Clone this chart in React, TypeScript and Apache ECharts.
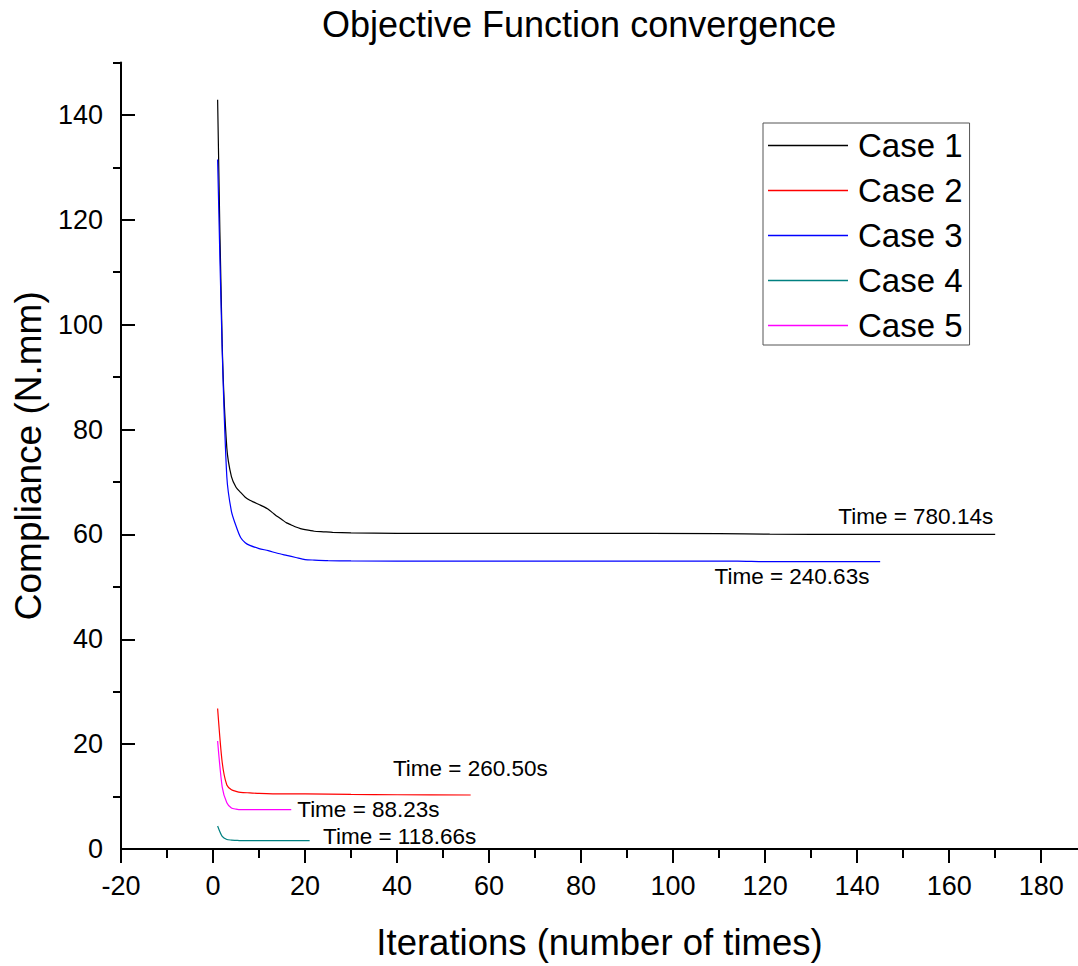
import React, { useEffect, useRef } from "react";
import * as echarts from "echarts";

const FONT = "'Liberation Sans', Arial, sans-serif";

const titleText = "Objective Function convergence";
const xName = "Iterations (number of times)";
const yName = "Compliance (N.mm)";

const xTickValues = [-20, 0, 20, 40, 60, 80, 100, 120, 140, 160, 180];
const xMinorTickValues = [-10, 10, 30, 50, 70, 90, 110, 130, 150, 170];
const yTickValues = [0, 20, 40, 60, 80, 100, 120, 140];
const yMinorTickValues = [10, 30, 50, 70, 90, 110, 130, 150];

const seriesNames = ["Case 1", "Case 2", "Case 3", "Case 4", "Case 5"];
const seriesColors = ["#000000", "#ff0000", "#0000ff", "#008080", "#ff00ff"];

const case1X = [1, 2, 3, 4, 5, 6, 7, 8, 9, 10, 11, 12, 13, 14, 15, 16, 17, 18, 19, 20, 22, 24, 26, 30, 40, 60, 80, 110, 121, 140, 170];
const case1Y = [142.9, 96, 76.5, 71, 69, 68, 67.1, 66.5, 66.1, 65.7, 65.3, 64.8, 64.1, 63.4, 62.8, 62.2, 61.8, 61.4, 61.1, 60.9, 60.6, 60.5, 60.4, 60.3, 60.2, 60.2, 60.2, 60.15, 60.05, 60.0, 60.0];

const case2X = [1, 2, 3, 4, 5, 6, 8, 10, 15, 20, 30, 40, 56];
const case2Y = [26.8, 16.5, 12.2, 11.3, 11.0, 10.8, 10.7, 10.6, 10.5, 10.5, 10.4, 10.35, 10.3];

const case3X = [1, 2, 3, 4, 5, 6, 7, 8, 10, 12, 14, 16, 18, 20, 22, 25, 30, 50, 80, 114, 120, 145];
const case3Y = [131.5, 95, 71, 64.4, 61.6, 59.4, 58.4, 57.9, 57.3, 56.9, 56.4, 56.0, 55.6, 55.2, 55.1, 55.0, 54.95, 54.9, 54.9, 54.9, 54.8, 54.8];

const case4X = [1, 2, 3, 4, 5, 6, 8, 10, 15, 21];
const case4Y = [4.4, 2.4, 1.8, 1.7, 1.65, 1.6, 1.6, 1.6, 1.6, 1.6];

const case5X = [1, 2, 3, 4, 5, 6, 8, 10, 14, 17];
const case5Y = [20.6, 11.8, 8.8, 7.8, 7.6, 7.5, 7.5, 7.5, 7.5, 7.5];

const annoText = ["Time = 780.14s", "Time = 240.63s", "Time = 260.50s", "Time = 88.23s", "Time = 118.66s"];
const annoX = [135.9, 109, 39.1, 18.3, 23.9];
const annoY = [63.4, 52.0, 15.4, 7.6, 2.3];

export default function App() {
  const ref = useRef<HTMLDivElement>(null);

  useEffect(() => {
    if (!ref.current) return;
    const chart = echarts.init(ref.current, null, { renderer: "svg" });
    const pair = (xs: number[], ys: number[]) => xs.map((x, i) => [x, ys[i]]);
    const allX = [case1X, case2X, case3X, case4X, case5X];
    const allY = [case1Y, case2Y, case3Y, case4Y, case5Y];

    const axisLineStyle = { color: "#000", width: 2 };

    const option: any = {
      animation: false,
      backgroundColor: "#fff",
      title: {
        text: titleText,
        left: 317,
        top: 1,
        textStyle: { fontSize: 36, fontWeight: "normal", color: "#000", fontFamily: FONT },
      },
      legend: {
        orient: "vertical",
        left: 763,
        top: 123,
        padding: [6, 7, 3, 5],
        itemGap: 12,
        itemWidth: 80,
        itemHeight: 1.5,
        icon: "rect",
        borderColor: "#555",
        borderWidth: 1,
        data: seriesNames,
        textStyle: { fontSize: 33, lineHeight: 33, color: "#000", fontFamily: FONT, padding: [0, 0, 0, 5] },
      },
      grid: { left: 121, right: 0, top: 62.5, bottom: 116, containLabel: false },
      xAxis: [
        {
          type: "value",
          min: -20,
          max: 188,
          position: "bottom",
          name: xName,
          nameLocation: "middle",
          nameGap: 75,
          nameTextStyle: { fontSize: 36.5, color: "#000", fontFamily: FONT },
          axisLine: { show: true, onZero: false, lineStyle: axisLineStyle },
          axisTick: { show: true, inside: false, length: 14, customValues: xTickValues, lineStyle: axisLineStyle },
          axisLabel: { customValues: xTickValues, fontSize: 27, color: "#000", fontFamily: FONT, margin: 23 },
          splitLine: { show: false },
        },
        {
          type: "value",
          min: -20,
          max: 188,
          position: "bottom",
          axisLine: { show: false, onZero: false },
          axisTick: { show: true, inside: false, length: 9, customValues: xMinorTickValues, lineStyle: axisLineStyle },
          axisLabel: { show: false },
          splitLine: { show: false },
        },
      ],
      yAxis: [
        {
          type: "value",
          min: 0,
          max: 150,
          position: "left",
          name: yName,
          nameLocation: "middle",
          nameGap: 71,
          nameRotate: 90,
          nameTextStyle: { fontSize: 37, color: "#000", fontFamily: FONT },
          axisLine: { show: true, onZero: false, lineStyle: axisLineStyle },
          axisTick: { show: true, inside: true, length: 14, customValues: yTickValues, lineStyle: axisLineStyle },
          axisLabel: { customValues: yTickValues, fontSize: 27, color: "#000", fontFamily: FONT, margin: 18 },
          splitLine: { show: false },
        },
        {
          type: "value",
          min: 0,
          max: 150,
          position: "left",
          axisLine: { show: false, onZero: false },
          axisTick: { show: true, inside: false, length: 8, customValues: yMinorTickValues, lineStyle: axisLineStyle },
          axisLabel: { show: false },
          splitLine: { show: false },
        },
      ],
      series: seriesNames.map((name, i) => ({
        type: "line",
        name,
        xAxisIndex: 0,
        yAxisIndex: 0,
        data: pair(allX[i], allY[i]),
        showSymbol: false,
        symbol: "none",
        smooth: 0.25,
        color: seriesColors[i],
        lineStyle: { color: seriesColors[i], width: 1.2 },
        itemStyle: { color: seriesColors[i] },
      })),
    };
    chart.setOption(option);

    const graphic = annoText.map((t, i) => {
      const p = chart.convertToPixel({ xAxisIndex: 0, yAxisIndex: 0 } as any, [annoX[i], annoY[i]]) as number[];
      return {
        type: "text",
        x: p[0],
        y: p[1],
        style: { text: t, fontSize: 22.5, fontFamily: FONT, fill: "#000", align: "left", verticalAlign: "middle" },
      };
    });
    chart.setOption({ graphic });

    return () => chart.dispose();
  }, []);

  return (
    <div
      ref={ref}
      style={{ position: "fixed", left: 0, top: 0, width: 1078, height: 966, background: "#fff" }}
    />
  );
}
